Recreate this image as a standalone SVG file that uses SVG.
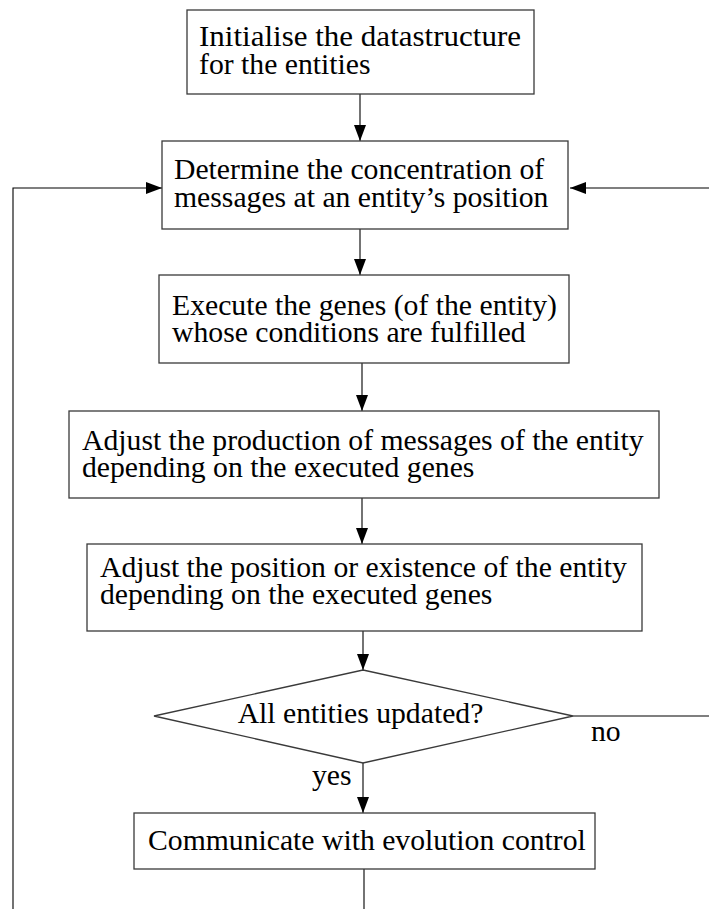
<svg xmlns="http://www.w3.org/2000/svg" width="709" height="909" viewBox="0 0 709 909">
  <defs>
    <marker id="arrow" markerUnits="userSpaceOnUse" markerWidth="17" markerHeight="12" refX="16" refY="6" orient="auto">
      <path d="M0,0 L16,6 L0,12 z" fill="#000"/>
    </marker>
    <style>
      .box { fill: #fff; stroke: #3a3a3a; stroke-width: 1.3; }
      .edge { fill: none; stroke: #000; stroke-width: 1.1; }
      .arr { marker-end: url(#arrow); }
      text { font-family: "Liberation Serif", "Times New Roman", serif; font-size: 29.7px; fill: #000; }
    </style>
  </defs>
  <rect width="709" height="909" fill="#fff"/>

  <!-- connectors: main flow, the two loop-backs and the branch labels -->
  <g id="connectors">
    <line class="edge arr" x1="360" y1="94" x2="360" y2="141"/>
    <line class="edge arr" x1="360" y1="229" x2="360" y2="275"/>
    <line class="edge arr" x1="362" y1="363" x2="362" y2="411"/>
    <line class="edge arr" x1="362" y1="498" x2="362" y2="544"/>
    <line class="edge arr" x1="363" y1="631" x2="363" y2="670"/>
    <line class="edge arr" x1="363" y1="763" x2="363" y2="813"/>
    <line class="edge" x1="364" y1="869" x2="364" y2="909"/>
    <path class="edge arr" d="M13,909 V188 H162"/>
    <path class="edge arr" d="M709,188 H570"/>
    <line class="edge" x1="573" y1="716" x2="709" y2="716"/>
    <text x="591" y="741">no</text>
    <text x="312" y="785">yes</text>
  </g>

  <g id="init">
    <rect class="box" x="187" y="10" width="347" height="84"/>
    <text x="199" y="46" textLength="322" lengthAdjust="spacingAndGlyphs">Initialise the datastructure</text>
    <text x="199" y="74">for the entities</text>
  </g>

  <g id="concentration">
    <rect class="box" x="162" y="141" width="406" height="88"/>
    <text x="174" y="179">Determine the concentration of</text>
    <text x="174" y="207">messages at an entity’s position</text>
  </g>

  <g id="execute">
    <rect class="box" x="159" y="275" width="410" height="88"/>
    <text x="172" y="315">Execute the genes (of the entity)</text>
    <text x="172" y="342">whose conditions are fulfilled</text>
  </g>

  <g id="production">
    <rect class="box" x="69" y="411" width="590" height="87"/>
    <text x="82" y="450">Adjust the production of messages of the entity</text>
    <text x="82" y="477">depending on the executed genes</text>
  </g>

  <g id="position">
    <rect class="box" x="87" y="544" width="555" height="87"/>
    <text x="100" y="577">Adjust the position or existence of the entity</text>
    <text x="100" y="604">depending on the executed genes</text>
  </g>

  <g id="decision">
    <polygon class="box" points="363,670 573,716 363,763 154,716"/>
    <text x="360.5" y="723" text-anchor="middle">All entities updated?</text>
  </g>

  <g id="communicate">
    <rect class="box" x="134" y="813" width="461" height="56"/>
    <text x="148" y="850">Communicate with evolution control</text>
  </g>
</svg>
